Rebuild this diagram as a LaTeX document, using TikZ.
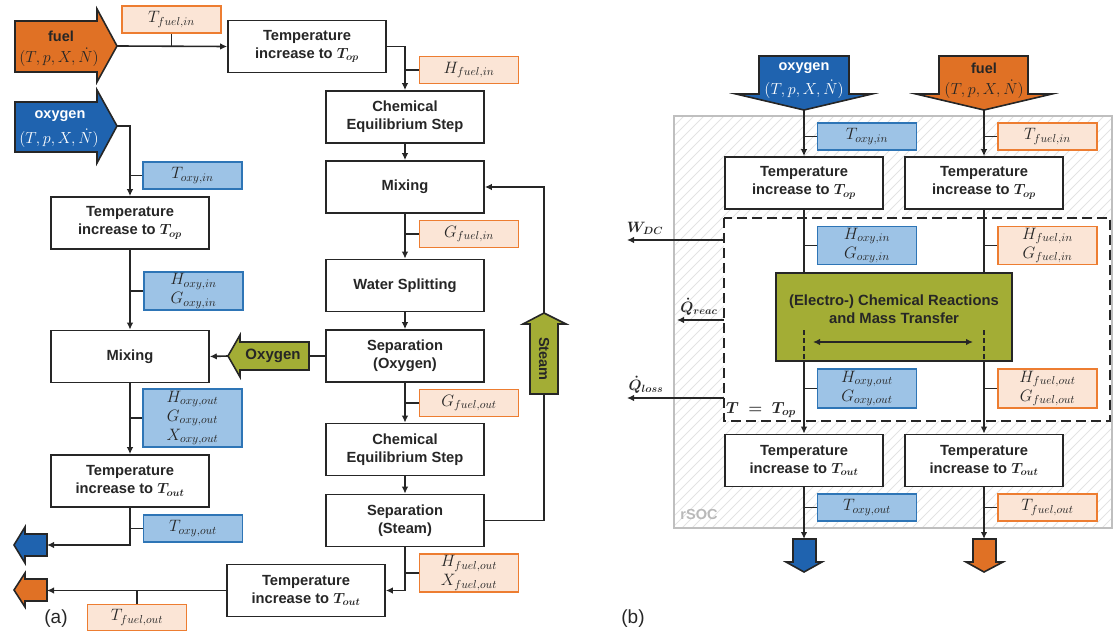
\RequirePackage{fix-cm}
\documentclass[tikz,border=0pt]{standalone}
\usepackage{amsmath}
\usepackage{fontspec}
\setmainfont{Liberation Sans}
\usetikzlibrary{arrows.meta}
\definecolor{dk}{HTML}{262626}
\definecolor{forange}{HTML}{E07125}
\definecolor{oblue}{HTML}{1F63AF}
\definecolor{lblue}{HTML}{9DC3E6}
\definecolor{bblue}{HTML}{2E75B6}
\definecolor{lorange}{HTML}{FBE5D6}
\definecolor{borange}{HTML}{ED7D31}
\definecolor{olive}{HTML}{A3AD35}
\tikzset{
  box/.style={draw=dk, line width=1.6pt, fill=white, minimum width=158pt, minimum height=52pt, inner sep=0pt, align=center, font=\fontsize{14.7}{18}\selectfont\bfseries, text=dk},
  bvar/.style={draw=bblue, fill=lblue, line width=1.9pt, minimum width=99pt, minimum height=27pt, inner sep=0pt, align=center, font=\fontsize{16.5}{19}\selectfont, text=dk},
  ovar/.style={bvar, draw=borange, fill=lorange},
  flow/.style={draw=dk, line width=1.6pt},
  arr/.style={flow, -{Latex[length=7pt,width=6.5pt]}},
  bigarrow/.style={draw=dk, line width=1.6pt},
  lbl/.style={font=\fontsize{14.5}{16}\selectfont\bfseries, text=dk, inner sep=0pt},
  mlbl/.style={font=\fontsize{16}{17}\selectfont, text=dk, inner sep=0pt},
}
\begin{document}
\begin{tikzpicture}[x=1pt,y=-1pt]
\useasboundingbox (0,0) rectangle (1114,631);

% ================= LEFT PANEL (a) =================
\draw[bigarrow, fill=forange] (15,21) -- (97,21) -- (97,9) -- (117,46) -- (97,82) -- (97,72) -- (15,72) -- cycle;
\coordinate (fuelTip) at (117,46);
\node[lbl] (fuelLbl) at (61,36) {fuel};
\node[mlbl] (fuelVar) at (59,57) {$(T,p,X,\dot N)$};

\draw[bigarrow, fill=oblue] (15,102) -- (97,102) -- (97,90) -- (117,126) -- (97,163) -- (97,152) -- (15,152) -- cycle;
\coordinate (oxyTip) at (117,126);
\node[lbl, text=white] (oxyLbl) at (60,116) {oxygen};
\node[mlbl, text=white] (oxyVar) at (59,138) {$(T,p,X,\dot N)$};

\node[ovar] (tfin) at (171.5,19.5) {$T_{fuel,in}$};
\node[box] (t1) at (307,46.5) {Temperature\\increase to $\boldsymbol{T_{op}}$};
\node[ovar] (hfin) at (469,70) {$H_{fuel,in}$};
\node[box] (chem1) at (405,117) {Chemical\\Equilibrium Step};
\node[box] (mix1) at (405,187) {Mixing};
\node[ovar] (gfin) at (469,234) {$G_{fuel,in}$};
\node[box] (water) at (405,285.5) {Water Splitting};
\node[box] (sepO) at (405,356) {Separation\\(Oxygen)};
\node[ovar] (gfout) at (469,403) {$G_{fuel,out}$};
\node[box] (chem2) at (405,449.5) {Chemical\\Equilibrium Step};
\node[box] (sepS) at (405,520.5) {Separation\\(Steam)};
\node[ovar, minimum height=38pt] (hxfout) at (469,573) {$H_{fuel,out}$\\$X_{fuel,out}$};
\node[box] (tout2) at (306,590.5) {Temperature\\increase to $\boldsymbol{T_{out}}$};
\node[ovar, minimum height=26pt] (tfout) at (137,617.5) {$T_{fuel,out}$};

\coordinate (c1) at (405,46.5);
\draw[arr] (fuelTip) -- (t1.west);
\draw[flow] (tfin.south) -- (tfin.south |- fuelTip);
\draw[arr] (t1.east) -- (c1) -- (chem1.north);
\draw[flow] (hfin.west) -- (hfin.west -| c1);
\draw[arr] (chem1.south) -- (mix1.north);
\draw[arr] (mix1.south) -- (water.north);
\draw[flow] (gfin.west) -- (gfin.west -| mix1.south);
\draw[arr] (water.south) -- (sepO.north);
\draw[arr] (sepO.south) -- (chem2.north);
\draw[flow] (gfout.west) -- (gfout.west -| sepO.south);
\draw[arr] (chem2.south) -- (sepS.north);
\draw[arr] (sepS.south) -- (sepS.south |- tout2.east) -- (tout2.east);
\draw[flow] (hxfout.west) -- (hxfout.west -| sepS.south);

\draw[bigarrow, fill=olive] (544,313) -- (566,324) -- (558,324) -- (558,394) -- (530,394) -- (530,324) -- (523,324) -- cycle;
\node[lbl, rotate=-90] (steamLbl) at (544,359) {Steam};
\coordinate (stTip) at (544,313);
\coordinate (stBot) at (544,394);
\draw[flow] (sepS.east) -- (sepS.east -| stBot) -- (stBot);
\draw[arr] (stTip) -- (stTip |- mix1.east) -- (mix1.east);

\node[bvar] (toxin) at (192.5,175.5) {$T_{oxy,in}$};
\node[box] (topL) at (130,223) {Temperature\\increase to $\boldsymbol{T_{op}}$};
\node[bvar, minimum height=38pt] (hoxin) at (193.5,291) {$H_{oxy,in}$\\$G_{oxy,in}$};
\node[box] (mixL) at (130,356.5) {Mixing};
\node[bvar, minimum height=58pt] (hoxout) at (192.5,418) {$H_{oxy,out}$\\$G_{oxy,out}$\\$X_{oxy,out}$};
\node[box] (toutL) at (130,481) {Temperature\\increase to $\boldsymbol{T_{out}}$};
\node[bvar] (toxout) at (193,528.5) {$T_{oxy,out}$};

\coordinate (oc1) at (130,126);
\draw[arr] (oxyTip) -- (oc1) -- (topL.north);
\draw[flow] (toxin.west) -- (toxin.west -| oc1);
\draw[arr] (topL.south) -- (mixL.north);
\draw[flow] (hoxin.west) -- (hoxin.west -| topL.south);
\draw[arr] (mixL.south) -- (toutL.north);
\draw[flow] (hoxout.west) -- (hoxout.west -| mixL.south);

\draw[bigarrow, fill=olive] (228,356) -- (240,335) -- (240,342) -- (309,342) -- (309,370) -- (240,370) -- (240,377) -- cycle;
\node[lbl, font=\fontsize{15}{16}\selectfont\bfseries] (oxLbl) at (273,356) {Oxygen};
\coordinate (oxTip) at (228,356);
\coordinate (oxBack) at (309,356);
\draw[flow] (sepO.west) -- (oxBack);
\draw[arr] (oxTip) -- (mixL.east);

\draw[bigarrow, fill=oblue] (14,545) -- (25,527) -- (25,534) -- (47,534) -- (47,556) -- (25,556) -- (25,563) -- cycle;
\coordinate (blueOut) at (47,545);
\draw[arr] (toutL.south) -- (toutL.south |- blueOut) -- (blueOut);
\draw[flow] (toxout.west) -- (toxout.west -| toutL.south);

\draw[bigarrow, fill=forange] (14,590) -- (25,573) -- (25,579) -- (47,579) -- (47,601) -- (25,601) -- (25,607) -- cycle;
\coordinate (orOut) at (47,590.5);
\draw[arr] (tout2.west) -- (orOut);
\draw[flow] (tfout.north) -- (tfout.north |- orOut);

\node[font=\fontsize{19}{20}\selectfont, text=dk] (la) at (56,619) {(a)};

% ================= RIGHT PANEL (b) =================
\begin{scope}
\clip (674,116) rectangle (1112,528);
\foreach \x in {262,272,...,1122} {
  \draw[gray!22, line width=0.8pt] (\x,528) -- ++(412,-412);
}
\end{scope}
\draw[gray!50, line width=1.6pt] (674,116) rectangle (1112,528);
\fill[white] (724,218) rectangle (1110,421);
\draw[dk, line width=2.6pt, dash pattern=on 10pt off 5pt] (724,218) rectangle (1110,421);
\node[font=\fontsize{14.5}{15}\selectfont\bfseries, text=gray!55] (rsoc) at (699,515) {rSOC};

\draw[bigarrow, fill=oblue] (759,56) -- (849,56) -- (849,94) -- (872,94) -- (804,110) -- (736,94) -- (759,94) -- cycle;
\node[lbl, text=white] (oxyLblR) at (804,68) {oxygen};
\node[mlbl, text=white] (oxyVarR) at (804,89) {$(T,p,X,\dot N)$};
\coordinate (oxyTipR) at (804,110);
\draw[bigarrow, fill=forange] (939,56) -- (1028,56) -- (1028,94) -- (1052,94) -- (984,110) -- (916,94) -- (939,94) -- cycle;
\node[lbl] (fuelLblR) at (984,68) {fuel};
\node[mlbl] (fuelVarR) at (984,89) {$(T,p,X,\dot N)$};
\coordinate (fuelTipR) at (984,110);

\node[bvar] (toxinR) at (867,136.5) {$T_{oxy,in}$};
\node[ovar] (tfinR) at (1047.5,136.5) {$T_{fuel,in}$};
\node[box] (topOR) at (804,183) {Temperature\\increase to $\boldsymbol{T_{op}}$};
\node[box] (topFR) at (984,183) {Temperature\\increase to $\boldsymbol{T_{op}}$};
\node[bvar, minimum height=38pt] (hoxinR) at (867,245.5) {$H_{oxy,in}$\\$G_{oxy,in}$};
\node[ovar, minimum height=38pt] (hfinR) at (1047.5,245.5) {$H_{fuel,in}$\\$G_{fuel,in}$};
\node[draw=dk, line width=1.6pt, fill=olive, minimum width=236pt, minimum height=88pt, inner sep=0pt] (chemR) at (894,317) {};
\node[lbl, align=center, font=\fontsize{14.8}{18}\selectfont\bfseries] (chemTxt) at (894,309) {(Electro-) Chemical Reactions\\and Mass Transfer};
\node[bvar, minimum height=39pt] (hoxoutR) at (867,388.5) {$H_{oxy,out}$\\$G_{oxy,out}$};
\node[ovar, minimum height=39pt] (hfoutR) at (1047.5,388.5) {$H_{fuel,out}$\\$G_{fuel,out}$};
\node[box] (toutOR) at (804,460.5) {Temperature\\increase to $\boldsymbol{T_{out}}$};
\node[box] (toutFR) at (984,460.5) {Temperature\\increase to $\boldsymbol{T_{out}}$};
\node[bvar] (toxoutR) at (867,507.5) {$T_{oxy,out}$};
\node[ovar] (tfoutR) at (1047.5,507.5) {$T_{fuel,out}$};

\draw[arr] (oxyTipR) -- (topOR.north);
\draw[flow] (toxinR.west) -- (toxinR.west -| oxyTipR);
\draw[flow] (topOR.south) -- (chemR.north -| topOR.south);
\draw[flow] (hoxinR.west) -- (hoxinR.west -| topOR.south);
\coordinate (dO) at (804,330);
\draw[flow, dash pattern=on 5pt off 3pt] (dO) -- (chemR.south -| dO);
\draw[arr] (chemR.south -| toutOR.north) -- (toutOR.north);
\draw[flow] (hoxoutR.west) -- (hoxoutR.west -| toutOR.north);
\coordinate (blueOutR) at (804,539);
\draw[arr] (toutOR.south) -- (blueOutR);
\draw[flow] (toxoutR.west) -- (toxoutR.west -| toutOR.south);
\draw[bigarrow, fill=oblue] (793,539) -- (816,539) -- (816,562) -- (822,562) -- (804,572) -- (786,562) -- (793,562) -- cycle;

\draw[arr] (fuelTipR) -- (topFR.north);
\draw[flow] (tfinR.west) -- (tfinR.west -| fuelTipR);
\draw[flow] (topFR.south) -- (chemR.north -| topFR.south);
\draw[flow] (hfinR.west) -- (hfinR.west -| topFR.south);
\coordinate (dF) at (984,330);
\draw[flow, dash pattern=on 5pt off 3pt] (dF) -- (chemR.south -| dF);
\draw[arr] (chemR.south -| toutFR.north) -- (toutFR.north);
\draw[flow] (hfoutR.west) -- (hfoutR.west -| toutFR.north);
\coordinate (orOutR) at (984,539);
\draw[arr] (toutFR.south) -- (orOutR);
\draw[flow] (tfoutR.west) -- (tfoutR.west -| toutFR.south);
\draw[bigarrow, fill=forange] (973,539) -- (996,539) -- (996,562) -- (1003,562) -- (984,572) -- (966,562) -- (973,562) -- cycle;

\coordinate (ex1) at (813,342);
\coordinate (ex2) at (973,342);
\draw[flow, {Latex[length=7pt,width=6.5pt]}-{Latex[length=7pt,width=6.5pt]}] (ex1) -- (ex2);

\coordinate (wS) at (724,240);
\coordinate (wE) at (627,240);
\draw[arr] (wS) -- (wE);
\node[lbl, font=\fontsize{15}{16}\selectfont] (wLbl) at (645,228) {$\boldsymbol{W_{DC}}$};
\coordinate (qS) at (724,320);
\coordinate (qE) at (677,320);
\draw[arr] (qS) -- (qE);
\node[lbl, font=\fontsize{15}{16}\selectfont] (qLbl) at (699,307) {$\boldsymbol{\dot Q_{reac}}$};
\coordinate (lS) at (724,398);
\coordinate (lE) at (627,398);
\draw[arr] (lS) -- (lE);
\node[lbl, font=\fontsize{15}{16}\selectfont] (lLbl) at (646,385) {$\boldsymbol{\dot Q_{loss}}$};
\node[lbl, font=\fontsize{16}{17}\selectfont] (tLbl) at (761,410) {$\boldsymbol{T\ =\ T_{op}}$};

\node[font=\fontsize{19}{20}\selectfont, text=dk] (lb) at (633,619) {(b)};
\end{tikzpicture}
\end{document}
